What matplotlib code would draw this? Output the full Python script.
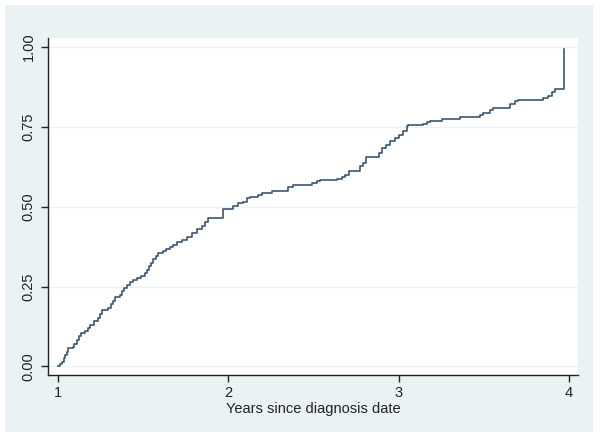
import matplotlib
matplotlib.use("Agg")
import matplotlib.pyplot as plt

plt.rcParams['font.family'] = ['Liberation Sans', 'DejaVu Sans']

# Step points of the cumulative curve (years since diagnosis, cumulative proportion)
years = [1.000, 1.012, 1.023, 1.035, 1.041, 1.053, 1.059, 1.086, 1.094, 1.110,
         1.123, 1.133, 1.159, 1.176, 1.188, 1.211, 1.237, 1.247, 1.257, 1.295,
         1.311, 1.323, 1.335, 1.365, 1.376, 1.387, 1.405, 1.423, 1.440, 1.462,
         1.487, 1.511, 1.523, 1.534, 1.546, 1.560, 1.575, 1.589, 1.618, 1.634,
         1.658, 1.677, 1.700, 1.726, 1.756, 1.785, 1.814, 1.844, 1.863, 1.882,
         1.967, 2.029, 2.059, 2.088, 2.108, 2.127, 2.176, 2.196, 2.225, 2.255,
         2.350, 2.378, 2.489, 2.519, 2.538, 2.636, 2.666, 2.685, 2.710, 2.773,
         2.792, 2.808, 2.886, 2.900, 2.926, 2.949, 2.978, 3.004, 3.027, 3.051,
         3.056, 3.145, 3.166, 3.184, 3.253, 3.360, 3.478, 3.495, 3.536, 3.554,
         3.654, 3.683, 3.701, 3.847, 3.877, 3.898, 3.918, 3.971]
cum_prop = [0.000, 0.008, 0.015, 0.025, 0.036, 0.046, 0.057, 0.060, 0.070, 0.083,
            0.094, 0.104, 0.112, 0.121, 0.130, 0.143, 0.151, 0.163, 0.175, 0.182,
            0.194, 0.206, 0.218, 0.224, 0.235, 0.245, 0.255, 0.265, 0.270, 0.276,
            0.284, 0.292, 0.303, 0.313, 0.323, 0.335, 0.344, 0.354, 0.362, 0.368,
            0.373, 0.380, 0.390, 0.396, 0.406, 0.417, 0.429, 0.440, 0.453, 0.464,
            0.492, 0.502, 0.511, 0.516, 0.526, 0.531, 0.535, 0.542, 0.544, 0.550,
            0.562, 0.569, 0.573, 0.580, 0.582, 0.588, 0.594, 0.599, 0.613, 0.626,
            0.636, 0.654, 0.669, 0.683, 0.693, 0.704, 0.714, 0.725, 0.738, 0.751,
            0.756, 0.759, 0.764, 0.769, 0.775, 0.782, 0.787, 0.794, 0.803, 0.810,
            0.820, 0.832, 0.835, 0.840, 0.847, 0.860, 0.869, 0.993]

x_ticks = [1, 2, 3, 4]
y_ticks = [0.00, 0.25, 0.50, 0.75, 1.00]
y_tick_labels = ["0.00", "0.25", "0.50", "0.75", "1.00"]
x_label = "Years since diagnosis date"

W, H = 600, 438
fig = plt.figure(figsize=(W / 100, H / 100), dpi=100)
fig.patch.set_facecolor('white')
panel_color = '#eaf2f3'

bg = fig.add_axes([5 / W, (H - 432) / H, (593 - 5) / W, (432 - 5) / H], zorder=0)
bg.set_facecolor(panel_color)
bg.set_xticks([])
bg.set_yticks([])
for s in bg.spines.values():
    s.set_visible(False)

ax = fig.add_axes([48 / W, (H - 375) / H, (578 - 48) / W, (375 - 38) / H], zorder=1)
ax.set_facecolor('white')
ax.step(years, cum_prop, where='post', color='#3d566e', lw=1.2)

ax.set_xlim(0.941, 4.053)
ax.set_ylim(-0.027, 1.028)
ax.set_xticks(x_ticks)
ax.set_yticks(y_ticks)
ax.set_yticklabels(y_tick_labels, rotation=90, va='center')
ax.grid(axis='y', color=panel_color, lw=1.0)
ax.set_axisbelow(True)

for s in ['top', 'right']:
    ax.spines[s].set_visible(False)
for s in ['left', 'bottom']:
    ax.spines[s].set_color('#222222')
    ax.spines[s].set_linewidth(1.0)
ax.tick_params(axis='both', colors='#222222', labelcolor='#222222', length=5,
               width=1.0, labelsize=10.5)
ax.tick_params(axis='y', pad=4)
ax.tick_params(axis='x', pad=3)
ax.set_xlabel(x_label, fontsize=10.5, color='#222222', labelpad=1)

fig.savefig('out.png', dpi=100, facecolor='white')
